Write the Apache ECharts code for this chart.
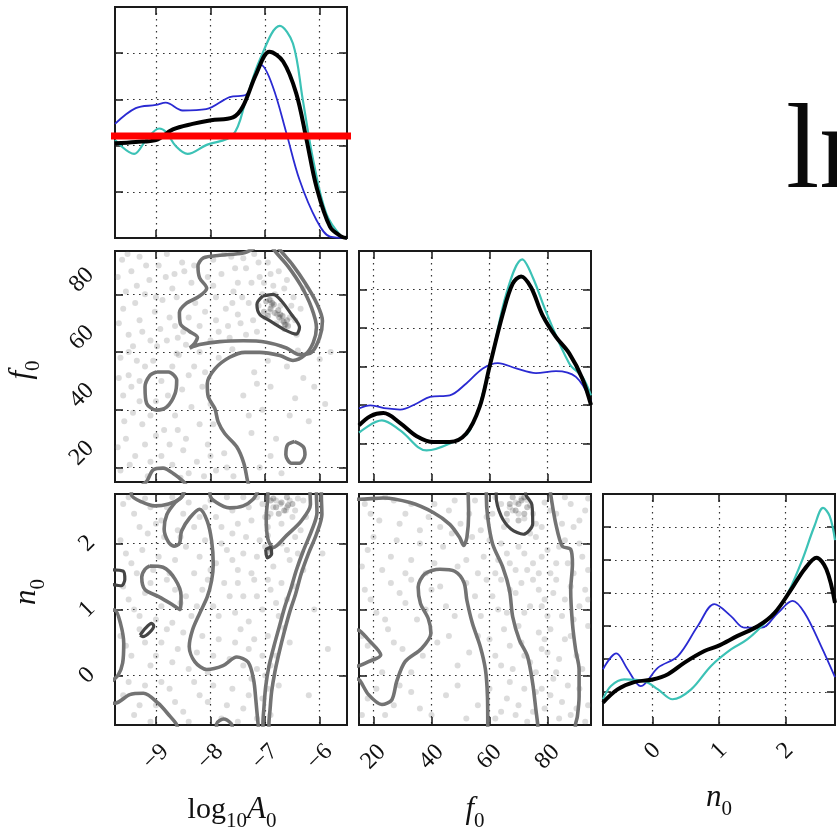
<!DOCTYPE html>
<html>
<head>
<meta charset="utf-8">
<script src="https://cdn.jsdelivr.net/npm/echarts@6/dist/echarts.min.js"></script>
<style>
  html, body { margin: 0; padding: 0; background: #ffffff; }
  #chart { width: 837px; height: 832px; }
</style>
</head>
<body>
<div id="chart"></div>
<script>
// ---------- parameter ranges and ticks ----------
const logARange = [-9.75, -5.5];
const f0Range = [15, 95];
const n0Range = [-0.75, 2.75];
const logATicks = [-9, -8, -7, -6];
const f0Ticks = [20, 40, 60, 80];
const n0Ticks = [0, 1, 2];
const logAHistRange = [0, 5];
const f0HistRange = [0, 6];
const n0HistRange = [0, 7];
const logAHistTicks = [1, 2, 3, 4];
const f0HistTicks = [1, 2, 3, 4, 5];
const n0HistTicks = [1, 2, 3, 4, 5, 6];

// ---------- 1D marginal posteriors: run A, run B, combined ----------
const logARunA = [[-9.75,2.47],[-9.37,2.81],[-9.0,2.88],[-8.82,2.93],[-8.51,2.76],[-8.08,2.79],[-7.65,3.05],[-7.35,3.1],[-7.07,3.74],[-6.86,3.28],[-6.61,2.27],[-6.37,1.26],[-6.06,0.39],[-5.81,0.03],[-5.5,0]];
const logARunB = [[-9.75,2.12],[-9.4,1.82],[-9.18,2.12],[-8.94,2.37],[-8.82,2.3],[-8.63,1.98],[-8.42,1.82],[-8.08,2.01],[-7.59,2.23],[-7.35,2.99],[-7.1,3.85],[-6.73,4.59],[-6.49,4.21],[-6.31,2.99],[-6.12,1.69],[-5.88,0.53],[-5.6,0.03],[-5.5,0]];
const logACombined = [[-9.75,2.05],[-9.37,2.08],[-9.0,2.12],[-8.69,2.35],[-8.33,2.47],[-7.99,2.55],[-7.59,2.61],[-7.41,2.84],[-7.16,3.56],[-6.92,4.03],[-6.67,3.82],[-6.43,3.13],[-6.24,2.12],[-6.06,1.11],[-5.81,0.24],[-5.6,0.03],[-5.5,0]];

const f0RunA = [[15,1.91],[18.9,1.99],[24.6,1.91],[29.2,1.88],[34.9,2.04],[39.5,2.21],[46.3,2.25],[52,2.56],[57.7,2.95],[62.9,3.09],[69.2,2.95],[76,2.83],[82.9,2.88],[89.8,2.73],[95,2.1]];
const f0RunB = [[15,1.28],[22.9,1.6],[29.2,1.34],[38.3,0.82],[46.3,1.0],[53.2,1.34],[60,2.99],[65.8,4.89],[71.3,5.78],[74.9,5.32],[79.5,4.42],[87.5,3.08],[92,2.73],[95,2.25]];
const f0Combined = [[15,1.47],[18.9,1.71],[23.4,1.79],[29.2,1.53],[34.9,1.19],[40.6,1.04],[46.3,1.04],[52,1.26],[56.6,1.95],[60,2.99],[64.6,4.37],[68,5.15],[70.9,5.34],[74.3,5.06],[78.3,4.33],[82.9,3.77],[87.5,3.34],[92,2.69],[95,2.0]];

const n0RunA = [[-0.75,1.69],[-0.55,2.17],[-0.38,1.69],[-0.18,1.18],[0.08,1.74],[0.38,2.09],[0.68,3.0],[0.93,3.66],[1.18,3.3],[1.38,2.95],[1.64,2.95],[1.89,3.4],[2.11,3.76],[2.29,3.4],[2.54,2.39],[2.75,1.45]];
const n0RunB = [[-0.75,0.78],[-0.63,1.18],[-0.43,1.38],[-0.13,1.33],[0.08,1.08],[0.3,0.78],[0.58,1.08],[0.88,1.79],[1.18,2.29],[1.43,2.6],[1.74,3.2],[1.99,3.81],[2.24,4.92],[2.44,6.03],[2.57,6.58],[2.67,6.33],[2.75,5.6]];
const n0Combined = [[-0.75,0.68],[-0.53,1.08],[-0.28,1.3],[0,1.38],[0.23,1.54],[0.48,1.89],[0.78,2.24],[0.98,2.39],[1.28,2.7],[1.59,3.0],[1.84,3.4],[2.09,4.11],[2.29,4.72],[2.47,5.07],[2.62,4.72],[2.75,3.7]];

// horizontal cut drawn across the log10 A0 marginal
const cutLevel = [[-10.57,2.21],[-4.64,2.21]];

// ---------- 2D samples ----------
const samplesAF = [[-9.62,92],[-9.45,88],[-9.3,93],[-9.12,85],[-8.95,90],[-8.8,94],[-8.66,87],[-8.52,91],[-8.35,84],[-9.55,81],[-9.38,77],[-9.2,80],[-9.02,74],[-8.88,78],[-8.7,82],[-9.68,70],[-9.5,66],[-9.3,71],[-9.1,64],[-8.92,68],[-8.75,72],[-8.6,65],[-8.45,62.5],
  [-7.95,92],[-7.8,87],[-7.62,93],[-7.5,84],[-7.35,89],[-7.2,94],[-7.1,86],[-6.95,91],[-6.85,83],[-7.9,79],[-7.72,75],[-7.58,81],[-7.45,70],[-7.3,77],[-7.15,67],[-7.05,80],[-6.92,74],[-6.8,70],[-6.72,76],[-6.65,68],[-6.55,72],[-6.48,79],[-6.42,66],[-6.6,85],[-6.75,88],[-7.85,67],[-7.65,65],[-7.9,71],[-8.1,74],[-8.2,69],[-6.9,78],[-6.78,73],[-6.7,71],[-6.62,69.5],[-6.88,76],[-7.0,72],[-8.3,90],[-8.05,86],[-7.4,92.5],[-6.35,75],[-6.3,82],
  [-9.65,58],[-9.5,52],[-9.35,57],[-9.6,45],[-9.42,39],[-9.25,35],[-9.55,30],[-9.38,24],[-9.65,19],[-9.2,28],[-9.05,57],[-8.9,50],[-8.7,55],[-8.52,47],[-8.85,33],[-8.65,38],[-8.45,30],[-8.9,24],[-8.7,21],[-8.5,26],[-8.3,55],[-8.15,48],[-8.35,41],[-8.2,35],[-8.05,28],[-8.25,22],[-7.9,19],[-8.0,42],[-7.75,25],[-7.85,58],[-7.6,61],[-9.0,43],[-9.15,17],[-8.4,18],[-9.7,27],[-8.58,59],[-9.45,48],[-9.1,38],[-8.6,33],[-8.1,53],
  [-7.2,53],[-6.9,48],[-6.6,55],[-7.05,40],[-6.45,44],[-7.25,32],[-6.8,30],[-6.2,36],[-7.1,20],[-6.3,51],[-5.9,42],[-6.7,18],[-7.4,45],[-6.0,57.5],
  [-9.7,86],[-9.52,94],[-9.35,83],[-9.18,90],[-9.0,79],[-8.82,86],[-8.62,79],[-8.48,88],[-8.4,72],[-8.28,77],[-9.6,75],[-9.42,62],[-9.25,67],[-8.98,62],[-8.8,64],[-8.65,69],[-8.5,67],
  [-8.0,64],[-7.75,94],[-7.55,89],[-7.42,79],[-7.25,84],[-7.12,91],[-7.02,84],[-6.9,87],[-6.82,80],[-6.65,82],[-6.52,76],[-6.45,71],[-7.68,69],[-7.5,73],[-7.35,66],[-7.22,71],[-7.12,76],[-7.6,77],[-7.95,83],
  [-9.5,60],[-9.3,50],[-9.68,51],[-9.58,36],[-9.3,43],[-9.48,21],[-9.1,22],[-9.0,31],[-8.75,28],[-8.78,45],[-8.62,59.5],[-8.4,52],[-8.55,16.5],[-8.12,17],[-8.0,24],[-7.95,35],[-8.2,60],[-7.7,20],[-7.58,17],[-9.2,55],
  [-6.95,57],[-7.3,38],[-6.55,38],[-6.1,48],[-6.9,24],[-7.15,49],[-6.4,60.5],[-5.8,60]];
const peakAF = [[-6.98,77.5],[-6.9,75],[-6.82,73.5],[-6.74,72],[-6.66,70.5],[-6.58,69],[-6.92,78],[-6.84,76.5],[-6.76,74.5],[-6.68,72.5],[-6.6,71],[-7.02,74],[-6.95,72.5],[-6.87,77],[-6.72,73],[-6.64,69.5]];

const samplesAN = [[-9.6,2.6],[-9.4,2.45],[-9.2,2.68],[-9.0,2.3],[-8.8,2.55],[-8.6,2.2],[-8.4,2.62],[-8.2,2.4],[-8.0,2.65],[-7.8,2.25],[-7.6,2.5],[-7.4,2.7],[-7.25,2.35],[-7.05,2.6],[-6.9,2.45],[-6.8,2.65],[-6.7,2.3],[-6.6,2.55],[-6.5,2.4],[-6.4,2.68],[-6.35,2.2],[-6.85,2.55],[-6.72,2.6],[-6.95,2.25],[-6.55,2.65],[-6.62,2.5],
  [-9.65,2.05],[-9.45,1.7],[-9.25,1.9],[-9.05,1.6],[-8.85,2.1],[-8.65,1.75],[-8.45,1.95],[-8.3,1.55],[-8.1,2.05],[-7.9,1.7],[-7.7,1.9],[-7.5,1.6],[-7.35,2.1],[-7.15,1.8],[-7.0,1.95],[-6.85,1.65],[-6.7,2.0],[-6.55,1.75],[-6.45,2.1],[-6.95,2.12],[-7.6,2.15],[-6.3,1.6],
  [-9.6,1.35],[-9.4,1.0],[-9.2,1.25],[-9.0,0.85],[-8.8,1.45],[-8.55,1.1],[-8.35,0.9],[-8.15,1.3],[-7.95,1.05],[-7.75,1.4],[-7.55,0.95],[-7.4,1.2],[-7.2,1.45],[-7.05,1.0],[-6.9,1.3],[-6.75,0.9],[-6.6,1.15],[-6.45,1.35],[-7.3,0.82],[-8.7,0.8],
  [-9.65,0.6],[-9.45,0.3],[-9.3,0.7],[-9.1,0.15],[-8.9,0.5],[-8.7,0.2],[-8.5,0.65],[-8.25,0.35],[-8.05,0.05],[-7.85,0.55],[-7.65,0.25],[-7.45,0.7],[-7.3,0.4],[-7.15,0.1],[-6.95,0.6],[-6.8,0.3],[-6.65,0.72],[-7.0,0.0],[-6.55,0.5],
  [-9.6,-0.3],[-9.4,-0.6],[-9.2,-0.15],[-9.0,-0.45],[-8.75,-0.2],[-8.5,-0.55],[-8.3,-0.1],[-8.05,-0.4],[-7.8,-0.65],[-7.6,-0.2],[-7.4,-0.5],[-7.25,-0.05],[-7.05,-0.35],[-6.9,-0.6],[-6.75,-0.15],
  [-6.1,1.0],[-5.85,0.4],[-6.2,-0.3],[-5.95,1.85],
  [-9.5,2.7],[-9.3,2.25],[-9.1,2.55],[-8.9,2.35],[-8.7,2.7],[-8.5,2.45],[-8.3,2.25],[-8.1,2.55],[-7.9,2.4],[-7.7,2.7],[-7.5,2.3],[-7.3,2.55],[-7.15,2.7],[-7.0,2.4],[-6.45,2.5],[-6.3,2.65],[-6.25,2.4],
  [-9.55,1.85],[-9.35,1.55],[-9.15,2.15],[-8.95,1.8],[-8.75,1.55],[-8.55,2.1],[-8.2,1.8],[-8.0,1.6],[-7.8,2.0],[-7.6,1.75],[-7.4,1.85],[-7.25,1.55],[-7.1,2.05],[-6.6,1.9],[-6.4,1.85],
  [-9.5,1.15],[-9.3,0.9],[-9.1,1.4],[-8.9,1.05],[-8.65,1.3],[-8.45,1.2],[-8.25,1.05],[-8.05,1.45],[-7.85,0.9],[-7.65,1.2],[-7.5,1.4],[-7.15,1.2],[-6.95,1.45],[-6.8,1.1],[-6.7,1.4],
  [-9.55,0.45],[-9.2,0.5],[-9.0,0.3],[-8.8,0.7],[-8.6,0.4],[-8.4,0.1],[-8.15,0.6],[-7.95,0.3],[-7.55,0.5],[-7.4,0.15],[-7.2,0.55],[-7.05,0.3],[-6.9,0.15],
  [-9.5,-0.1],[-9.3,-0.45],[-9.1,-0.7],[-8.9,-0.1],[-8.65,-0.4],[-8.4,-0.7],[-8.2,-0.3],[-7.95,-0.15],[-7.7,-0.45],[-7.5,-0.7],[-7.3,-0.3],[-7.15,-0.65],[-6.95,-0.2]];
const peakAN = [[-6.9,2.65],[-6.8,2.55],[-6.7,2.62],[-6.6,2.7],[-6.75,2.45],[-6.65,2.5],[-6.95,2.4],[-6.5,2.6],[-6.94,1.88],[-6.9,1.92],[-6.85,2.68],[-6.58,2.58]];

const samplesFN = [[17,2.6],[22,2.35],[27,2.65],[31,2.45],[36,2.2],[41,2.6],[46,2.5],[50,2.3],[55,2.65],[59,2.4],[62,2.7],[65,2.25],[67,2.55],[69,2.62],[70,2.45],[71,2.68],[72,2.38],[74,2.58],[76,2.3],[79,2.62],[83,2.45],[86,2.7],[89,2.25],[93,2.5],[68,2.5],[73,2.66],
  [18,1.9],[23,1.6],[28,2.05],[33,1.75],[38,1.55],[44,1.95],[49,1.65],[54,2.1],[58,1.8],[62,1.55],[64,2.0],[67,1.7],[70,1.95],[73,1.6],[76,2.1],[78,1.8],[81,1.55],[84,1.95],[87,1.7],[91,2.0],[94,1.6],[66,1.85],[75,1.7],
  [17,1.3],[21,0.95],[26,1.4],[31,1.1],[35,0.85],[40,1.3],[45,1.05],[52,1.4],[57,0.9],[61,1.2],[64,1.45],[66,0.95],[69,1.25],[71,1.4],[74,1.05],[77,1.3],[80,0.9],[83,1.45],[86,1.15],[89,0.85],[93,1.3],[79,1.15],
  [16,0.6],[20,0.25],[25,0.7],[30,0.4],[33,0.05],[42,0.5],[49,0.15],[56,0.6],[62,0.3],[65,0.7],[68,0.1],[71,0.5],[74,0.2],[77,0.65],[80,0.35],[83,0.05],[86,0.55],[90,0.3],[94,0.75],[79,0.55],
  [18,-0.35],[24,-0.6],[29,-0.15],[36,-0.5],[45,-0.3],[52,-0.65],[60,-0.2],[64,-0.55],[67,-0.1],[70,-0.45],[73,-0.7],[76,-0.25],[79,-0.5],[82,-0.05],[85,-0.4],[88,-0.6],[91,-0.2],[94,-0.45],[78,-0.2],
  [19,2.45],[24,2.7],[29,2.3],[33,2.6],[39,2.4],[43,2.25],[48,2.65],[53,2.45],[57,2.2],[61,2.45],[64,2.6],[66,2.35],[75,2.45],[78,2.25],[81,2.5],[85,2.3],[88,2.6],[91,2.35],[94,2.68],
  [16,1.65],[20,2.1],[26,1.8],[31,1.55],[36,2.0],[41,1.7],[47,2.15],[52,1.75],[56,1.55],[60,2.05],[63,1.75],[69,1.6],[72,1.85],[74,2.15],[77,1.55],[80,1.9],[83,1.7],[86,2.05],[89,1.55],[92,1.8],
  [19,1.15],[24,0.85],[29,1.25],[33,1.45],[38,1.0],[43,1.35],[48,0.9],[55,1.2],[59,1.45],[63,1.0],[67,1.3],[72,0.95],[75,1.45],[78,1.05],[82,1.25],[85,0.9],[88,1.35],[91,1.05],[94,1.15],
  [18,0.45],[23,0.05],[27,0.5],[37,0.3],[46,0.6],[53,0.35],[60,0.55],[64,0.15],[67,0.45],[70,0.75],[72,0.3],[76,0.05],[78,0.4],[81,0.7],[84,0.25],[88,0.6],[92,0.1],
  [16,-0.6],[21,-0.2],[27,-0.45],[33,-0.25],[40,-0.6],[49,-0.15],[56,-0.45],[62,-0.65],[66,-0.35],[69,-0.6],[72,-0.2],[75,-0.55],[81,-0.3],[84,-0.65],[87,-0.15],[90,-0.5],[93,-0.7]];
const peakFN = [[67,2.6],[69,2.5],[71,2.65],[72,2.45],[70,2.35],[68,2.7],[73,2.55],[66,2.45],[70,2.6],[72,2.7]];

// ---------- credible-region contours ----------
const contoursAF = [
  [[-7.2,96],[-7.4,94.3],[-7.83,93.5],[-8.13,92.6],[-8.23,89.7],[-8.2,85.7],[-8.07,82.1],[-8.2,79.4],[-8.45,76.8],[-8.57,73.7],[-8.55,69.7],[-8.39,67.2],[-8.24,65.1],[-8.29,63.0],[-8.38,61.4],[-8.2,62.6],[-7.83,63.6],[-7.4,63.9],[-6.98,63.4],[-6.61,61.4],[-6.37,59.1],[-6.15,59.9],[-6.0,65.1],[-5.95,70.8],[-6.06,77.1],[-6.27,84.0],[-6.5,90.3],[-6.68,94.3],[-6.75,96]],
  [[-6.86,96],[-6.79,94.3],[-6.58,89.7],[-6.34,82.9],[-6.15,75.4],[-6.06,68.5],[-6.12,63.2],[-6.27,59.0],[-6.49,57.1],[-6.73,58.8],[-7.1,59.9],[-7.37,59.9],[-7.65,58.2],[-7.92,54.2],[-8.06,49.0],[-8.04,44.4],[-7.92,40.4],[-7.86,35.8],[-7.74,31.8],[-7.52,27.2],[-7.39,21.5],[-7.32,15.2],[-7.3,14]],
  [[-8.99,53.1],[-8.77,53.1],[-8.62,50.2],[-8.65,45.6],[-8.8,41.0],[-8.99,39.9],[-9.17,42.2],[-9.2,47.9],[-9.11,51.9],[-8.99,53.1]],
  [[-6.46,29.0],[-6.3,27.2],[-6.27,24.4],[-6.37,21.5],[-6.52,21.5],[-6.62,24.4],[-6.59,27.8],[-6.46,29.0]],
  [[-9.25,14],[-9.17,15.2],[-9.05,19.2],[-8.87,19.8],[-8.65,17.5],[-8.5,15.2],[-8.45,14]]
];
const coresAF = [
  [[-7.04,79.4],[-6.85,80.0],[-6.7,77.7],[-6.52,73.1],[-6.37,68.5],[-6.43,66.2],[-6.61,67.4],[-6.91,70.8],[-7.1,73.1],[-7.15,76.6],[-7.04,79.4]]
];

const contoursAN = [
  [[-9.45,2.8],[-9.45,2.74],[-9.26,2.63],[-9.02,2.57],[-8.77,2.6],[-8.56,2.68],[-8.47,2.8]],
  [[-8.5,2.8],[-8.5,2.74],[-8.65,2.62],[-8.8,2.44],[-8.85,2.22],[-8.77,2.02],[-8.67,1.96],[-8.57,2.0],[-8.53,2.19],[-8.38,2.39],[-8.2,2.52],[-8.06,2.34],[-7.98,2.04],[-7.95,1.69],[-7.98,1.44],[-8.06,1.19],[-8.2,0.94],[-8.33,0.69],[-8.39,0.44],[-8.29,0.21],[-8.07,0.09],[-7.77,0.15],[-7.52,0.28],[-7.31,0.2],[-7.21,-0.07],[-7.17,-0.37],[-7.13,-0.73],[-7.12,-0.8]],
  [[-8.01,2.8],[-8.01,2.74],[-7.89,2.62],[-7.65,2.54],[-7.4,2.57],[-7.22,2.67],[-7.13,2.8]],
  [[-9.11,1.66],[-8.87,1.64],[-8.65,1.46],[-8.54,1.21],[-8.56,1.0],[-8.71,1.08],[-8.96,1.2],[-9.2,1.3],[-9.26,1.49],[-9.2,1.61],[-9.11,1.66]],
  [[-9.8,0.99],[-9.75,0.99],[-9.65,0.79],[-9.59,0.49],[-9.61,0.19],[-9.69,0.01],[-9.8,-0.08]],
  [[-9.8,-0.42],[-9.75,-0.42],[-9.48,-0.29],[-9.23,-0.27],[-8.96,-0.42],[-8.74,-0.62],[-8.63,-0.73],[-8.6,-0.8]],
  [[-7.89,-0.8],[-7.89,-0.73],[-7.76,-0.66],[-7.62,-0.73],[-7.6,-0.8]],
  [[-6.95,2.8],[-6.95,2.74],[-6.98,2.39],[-6.95,2.07],[-6.85,1.94],[-6.61,2.12],[-6.34,2.34],[-6.17,2.59],[-6.18,2.8]],
  [[-6.06,2.8],[-6.06,2.74],[-6.05,2.47],[-6.15,2.19],[-6.3,1.89],[-6.43,1.59],[-6.53,1.31],[-6.64,1.04],[-6.74,0.74],[-6.84,0.44],[-6.93,0.14],[-6.99,-0.17],[-7.02,-0.47],[-7.04,-0.73],[-7.04,-0.8]],
  [[-5.97,2.8],[-5.97,2.74],[-5.96,2.44],[-6.06,2.14],[-6.21,1.84],[-6.34,1.54],[-6.44,1.24],[-6.55,0.96],[-6.65,0.66],[-6.74,0.36],[-6.82,0.06],[-6.88,-0.24],[-6.91,-0.52],[-6.93,-0.73],[-6.93,-0.8]]
];
const coresAN = [
  [[-9.29,0.61],[-9.2,0.71],[-9.08,0.79],[-9.04,0.75],[-9.12,0.65],[-9.24,0.59],[-9.29,0.61]],
  [[-9.8,1.6],[-9.6,1.58],[-9.57,1.46],[-9.63,1.36],[-9.8,1.38]],
  [[-6.99,1.91],[-6.9,1.94],[-6.88,1.84],[-6.96,1.78],[-6.99,1.91]]
];

const contoursFN = [
  [[14,2.67],[15.2,2.67],[23.4,2.69],[32.6,2.62],[40.6,2.47],[46.3,2.29],[49.7,2.09],[51.1,1.97],[52.2,2.09],[52.8,2.44],[52.6,2.8]],
  [[14,0.69],[15.2,0.68],[18.3,0.54],[22.5,0.31],[18.3,0.21],[15.2,0.15],[14,0.14]],
  [[14,-0.05],[15.2,-0.07],[18.3,-0.29],[22.9,-0.44],[26.3,-0.37],[28.0,-0.09],[30.9,0.21],[36.6,0.41],[39.8,0.64],[38.9,0.86],[36.2,1.09],[35.4,1.34],[37.7,1.54],[42.9,1.61],[48.0,1.58],[51.2,1.41],[52.2,1.14],[54.1,0.79],[56.8,0.44],[58.6,0.09],[59.3,-0.32],[59.4,-0.73],[59.4,-0.8]],
  [[58.9,2.8],[58.9,2.74],[59.4,2.39],[61.1,1.99],[64.6,1.64],[66.9,1.29],[68.0,0.89],[70.3,0.54],[73.1,0.29],[74.9,-0.12],[76.0,-0.52],[76.6,-0.73],[76.7,-0.8]],
  [[81.0,2.8],[81.1,2.74],[82.9,2.29],[85.1,1.96],[88.0,1.91],[88.6,1.69],[88.0,1.29],[88.6,0.79],[89.7,0.39],[90.9,0.09],[90.9,-0.32],[90.3,-0.62],[89.7,-0.73],[89.6,-0.8]]
];
const coresFN = [
  [[62.3,2.8],[62.3,2.72],[64.0,2.42],[67.4,2.22],[71.7,2.14],[74.9,2.3],[74.6,2.59],[72.6,2.73],[72.4,2.8]]
];

// ---------- layout & styling ----------
const COL_LEFT = [115, 359, 603];
const ROW_TOP = [7, 251, 494];
const PANEL_W = 232, PANEL_H = 231;
const SERIF = '"Liberation Serif", "DejaVu Serif", serif';
const INK = '#111111';
const TICK_STYLE = { color: '#1a1a1a', width: 1.5 };
const GRID_LINE = { color: '#333333', width: 1.2, type: [1.6, 4.4] };
const COLOR_RUN_A = '#2a2ad2';
const COLOR_RUN_B = '#3cc2b6';
const COLOR_ALL = '#000000';
const CONTOUR = '#737373';
const CORE = '#454545';

const fmt = v => (v < 0 ? '\u2212' + Math.abs(v) : String(v));

function bottomLabel(margin) {
  return { show: true, rotate: 45, align: 'center', verticalAlign: 'middle', margin,
           fontFamily: SERIF, fontSize: 24, color: INK, formatter: fmt };
}
const leftLabelF0 = { show: true, rotate: 45, align: 'left', verticalAlign: 'bottom', lineHeight: 16,
                      margin: 36, fontFamily: SERIF, fontSize: 24, color: INK, formatter: fmt };
const leftLabelN0 = { show: true, rotate: 45, align: 'center', verticalAlign: 'middle',
                      margin: 28, fontFamily: SERIF, fontSize: 24, color: INK, formatter: fmt };

const grids = [], xAxes = [], yAxes = [], series = [];

function makeAxes(kind, gi, range, ticks, label) {
  const main = {
    type: 'value', gridIndex: gi, min: range[0], max: range[1],
    position: kind === 'x' ? 'bottom' : 'left',
    axisLine: { show: false, onZero: false },
    axisTick: { show: true, inside: true, length: 8, customValues: ticks, lineStyle: TICK_STYLE },
    axisLabel: label ? Object.assign({ customValues: ticks }, label) : { show: false },
    splitLine: { show: true, lineStyle: GRID_LINE }
  };
  const mirror = Object.assign({}, main, {
    position: kind === 'x' ? 'top' : 'right',
    axisLabel: { show: false },
    splitLine: { show: false }
  });
  return [main, mirror];
}

function addPanel(row, col, xr, xt, xl, yr, yt, yl) {
  const gi = grids.length;
  grids.push({ left: COL_LEFT[col], top: ROW_TOP[row], width: PANEL_W, height: PANEL_H,
               show: true, borderColor: '#1a1a1a', borderWidth: 2, backgroundColor: 'transparent' });
  xAxes.push(...makeAxes('x', gi, xr, xt, xl));
  yAxes.push(...makeAxes('y', gi, yr, yt, yl));
  return gi * 2;
}

function curve(ax, data, color, width, z, smooth) {
  return { type: 'line', xAxisIndex: ax, yAxisIndex: ax, data, symbol: 'none',
           smooth: smooth === undefined ? 0.35 : smooth, lineStyle: { color, width }, silent: true, z };
}
function dots(ax, data, color, size, z) {
  return { type: 'scatter', xAxisIndex: ax, yAxisIndex: ax, data, symbolSize: size,
           itemStyle: { color }, silent: true, z };
}
function marginal(ax, runA, runB, all) {
  series.push(curve(ax, runA, COLOR_RUN_A, 1.8, 3));
  series.push(curve(ax, runB, COLOR_RUN_B, 2.2, 4));
  series.push(curve(ax, all, COLOR_ALL, 4, 5));
}
function joint(ax, pts, peak, contours, cores) {
  series.push(dots(ax, pts, 'rgba(100,100,100,0.28)', 6, 2));
  series.push(dots(ax, peak, 'rgba(40,40,40,0.35)', 6, 2));
  contours.forEach(c => series.push(curve(ax, c, CONTOUR, 3.6, 4, 0.3)));
  cores.forEach(c => series.push(curve(ax, c, CORE, 3.2, 5, 0.3)));
}

// row 0: log10 A0 marginal
const ax00 = addPanel(0, 0, logARange, logATicks, null, logAHistRange, logAHistTicks, null);
marginal(ax00, logARunA, logARunB, logACombined);
series.push({ type: 'line', xAxisIndex: ax00, yAxisIndex: ax00, data: cutLevel, symbol: 'none',
              clip: false, lineStyle: { color: '#ff0000', width: 7 }, silent: true, z: 10 });

// row 1: f0 vs log10 A0, f0 marginal
const ax10 = addPanel(1, 0, logARange, logATicks, null, f0Range, f0Ticks, leftLabelF0);
joint(ax10, samplesAF, peakAF, contoursAF, coresAF);
const ax11 = addPanel(1, 1, f0Range, f0Ticks, null, f0HistRange, f0HistTicks, null);
marginal(ax11, f0RunA, f0RunB, f0Combined);

// row 2: n0 against log10 A0 and f0, n0 marginal
const ax20 = addPanel(2, 0, logARange, logATicks, bottomLabel(32), n0Range, n0Ticks, leftLabelN0);
joint(ax20, samplesAN, peakAN, contoursAN, coresAN);
const ax21 = addPanel(2, 1, f0Range, f0Ticks, bottomLabel(32), n0Range, n0Ticks, null);
joint(ax21, samplesFN, peakFN, contoursFN, coresFN);
const ax22 = addPanel(2, 2, n0Range, n0Ticks, bottomLabel(26), n0HistRange, n0HistTicks, null);
marginal(ax22, n0RunA, n0RunB, n0Combined);

// axis titles (math-style with subscripts)
const nameRich = {
  r: { fontFamily: SERIF, fontSize: 30, fill: INK },
  i: { fontFamily: SERIF, fontSize: 31, fontStyle: 'italic', fill: INK },
  s: { fontFamily: SERIF, fontSize: 21, fill: INK, padding: [22, 0, 0, 0] }
};
function title(text, x, y, rotated) {
  return { type: 'text', x, y, rotation: rotated ? Math.PI / 2 : 0, silent: true,
           style: { text, align: 'center', verticalAlign: 'middle', rich: nameRich } };
}

const chart = echarts.init(document.getElementById('chart'), null, { renderer: 'canvas' });
chart.setOption({
  backgroundColor: '#ffffff',
  animation: false,
  grid: grids,
  xAxis: xAxes,
  yAxis: yAxes,
  series,
  graphic: [
    title('{r|log}{s|10}{i|A}{s|0}', 232, 810, false),
    title('{i|f}{s|0}', 475, 810, false),
    title('{i|n}{s|0}', 719, 798, false),
    title('{i|f}{s|0}', 22, 370, true),
    title('{i|n}{s|0}', 27, 592, true),
    { type: 'text', x: 786, y: 155, silent: true,
      style: { text: 'ln', fill: '#0a0a0a', font: '120px "Liberation Serif"', align: 'left', verticalAlign: 'middle' } }
  ]
});
</script>
</body>
</html>
